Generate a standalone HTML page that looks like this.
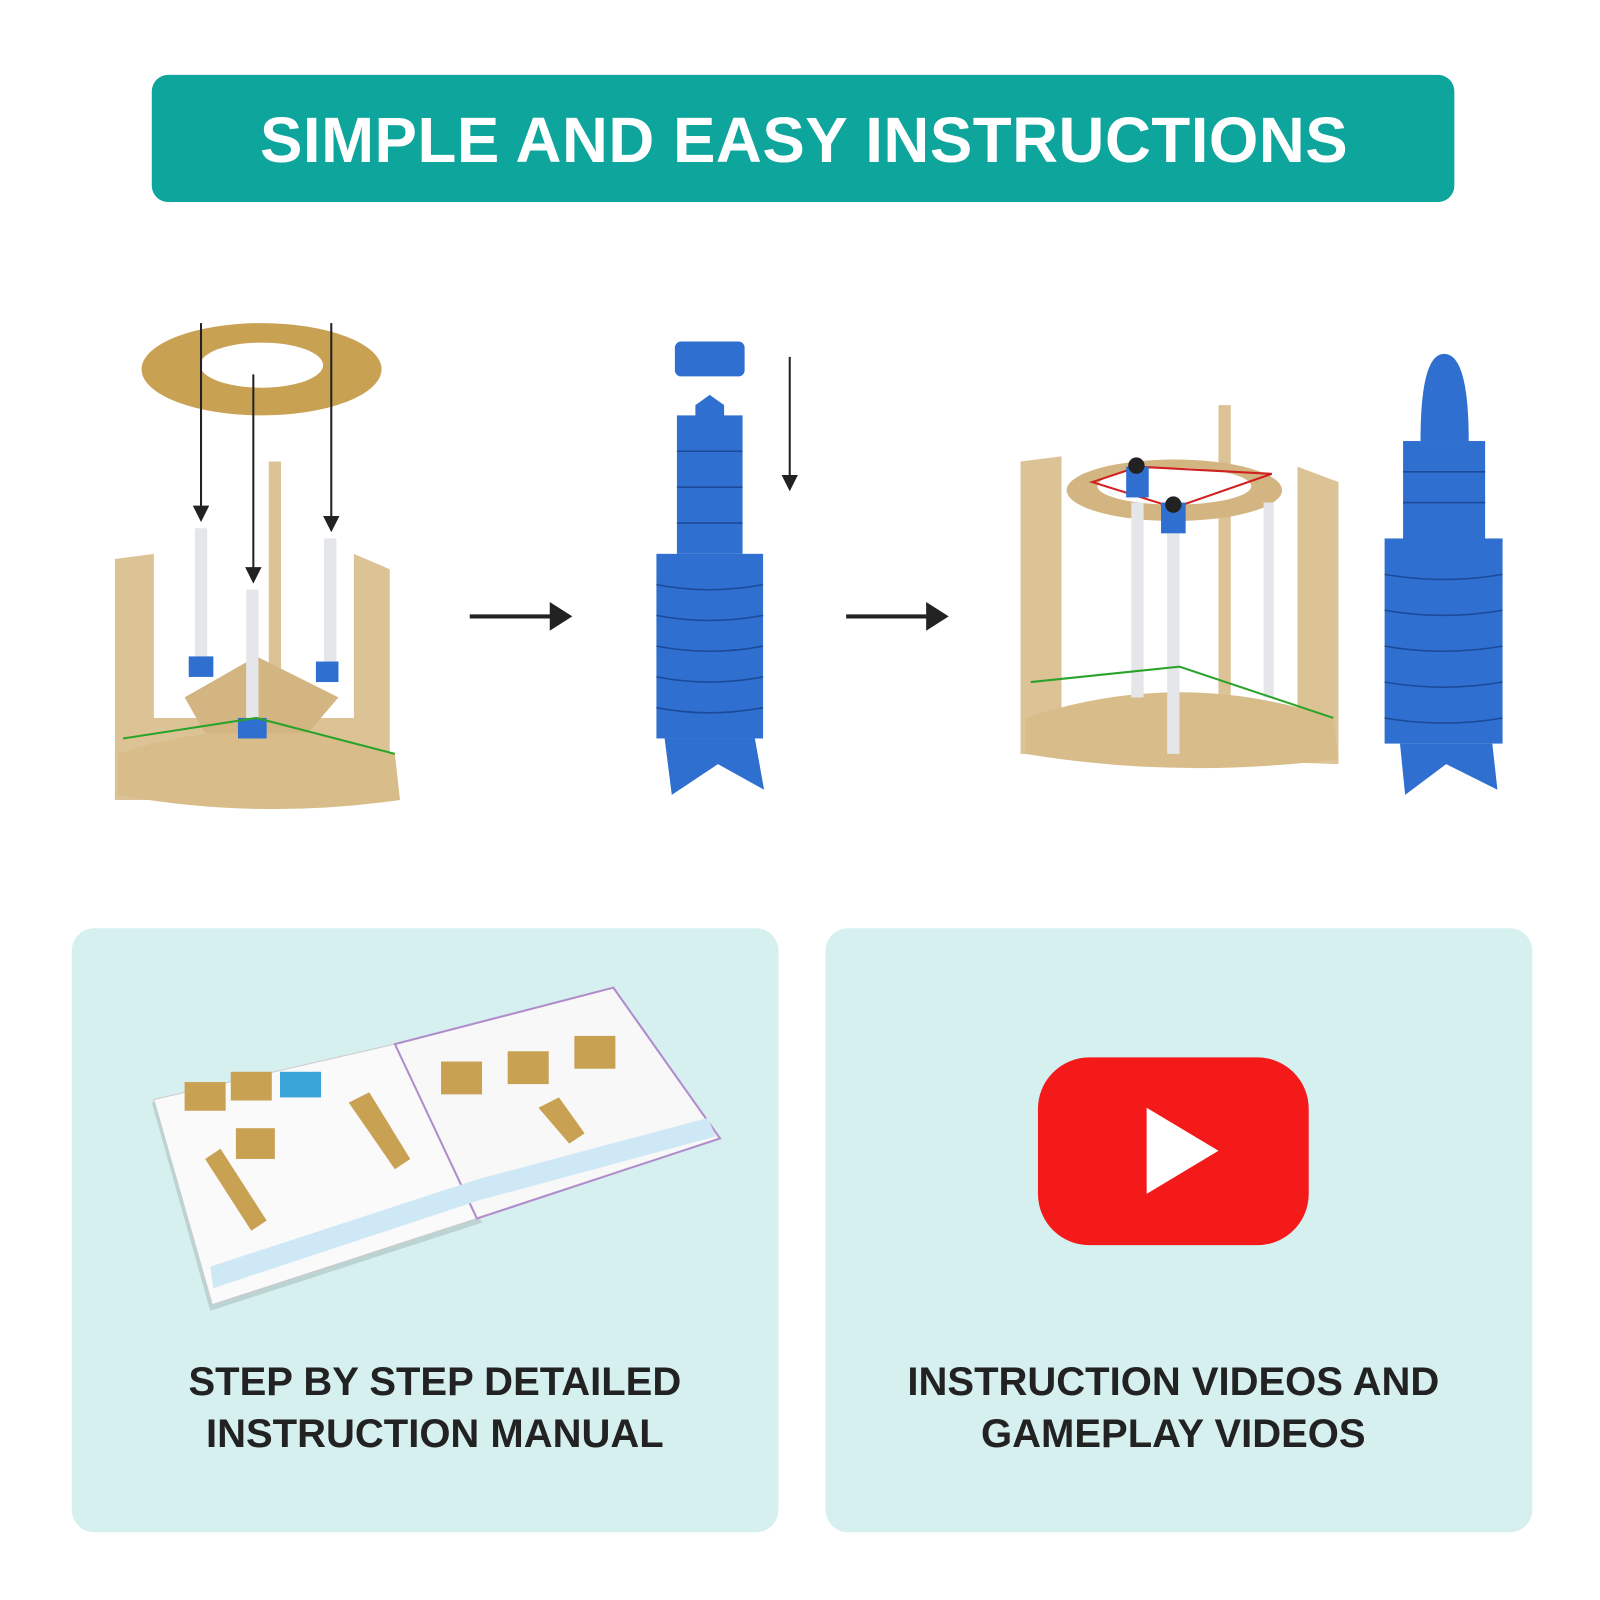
<!DOCTYPE html>
<html><head><meta charset="utf-8"><style>
html,body{margin:0;padding:0;background:#fff;}
svg{display:block}
text{font-family:"Liberation Sans",sans-serif;font-weight:bold}
</style></head><body>
<svg width="1600" height="1600" viewBox="0 0 1560 1560" xmlns="http://www.w3.org/2000/svg">
<defs>
<marker id="ah" markerWidth="8" markerHeight="8" refX="6" refY="4" orient="auto"><path d="M0,0 L8,4 L0,8z" fill="#222"/></marker>
</defs>
<rect width="1560" height="1560" fill="#fff"/>
<rect x="148" y="73" width="1270" height="124" rx="16" fill="#0ea59c"/>
<text x="784" y="158" font-size="62" fill="#fff" text-anchor="middle" letter-spacing="0.5">SIMPLE AND EASY INSTRUCTIONS</text>

<!-- left assembly -->
<g>
<ellipse cx="255" cy="360" rx="117" ry="45" fill="#c9a153"/>
<ellipse cx="255" cy="356" rx="60" ry="22" fill="#fff"/>
<path d="M112,545 L112,780 L380,780 L380,555 L345,540 L345,700 L150,700 L150,540z" fill="#dcc396"/>
<rect x="262" y="450" width="12" height="260" fill="#dcc396"/>
<path d="M115,735 Q250,690 385,735 L390,780 Q250,800 115,775z" fill="#d8bd8a"/>
<polygon points="180,680 250,640 330,680 300,715 200,715" fill="#d3b581"/>
<rect x="190" y="515" width="12" height="135" fill="#e4e6ea"/>
<rect x="240" y="575" width="12" height="135" fill="#e4e6ea"/>
<rect x="316" y="525" width="12" height="130" fill="#e4e6ea"/>
<rect x="184" y="640" width="24" height="20" fill="#2f6fd0"/>
<rect x="232" y="700" width="28" height="20" fill="#2f6fd0"/>
<rect x="308" y="645" width="22" height="20" fill="#2f6fd0"/>
<path d="M120,720 L250,700 L385,735" stroke="#2aa32a" stroke-width="2" fill="none"/>
<g stroke="#222" stroke-width="2" marker-end="url(#ah)">
<line x1="196" y1="315" x2="196" y2="505"/>
<line x1="247" y1="365" x2="247" y2="565"/>
<line x1="323" y1="315" x2="323" y2="515"/>
<line x1="770" y1="348" x2="770" y2="475"/>
</g>
</g>
<!-- arrows -->
<line x1="458" y1="601" x2="540" y2="601" stroke="#222" stroke-width="4"/>
<polygon points="536,587 558,601 536,615" fill="#222"/>
<line x1="825" y1="601" x2="907" y2="601" stroke="#222" stroke-width="4"/>
<polygon points="903,587 925,601 903,615" fill="#222"/>
<!-- middle rocket -->
<g fill="#2f6fd0">
<rect x="658" y="333" width="68" height="34" rx="6"/>
<polygon points="678,395 692,385 706,395 706,410 678,410"/>
<rect x="660" y="405" width="64" height="135"/>
<rect x="640" y="540" width="104" height="180"/>
<polygon points="648,720 736,720 745,770 700,745 655,775"/>
</g>
<g stroke="#1b4a99" stroke-width="1.5" fill="none">
<line x1="660" y1="440" x2="724" y2="440"/><line x1="660" y1="475" x2="724" y2="475"/><line x1="660" y1="510" x2="724" y2="510"/>
<path d="M640,570 Q692,580 744,570 M640,600 Q692,610 744,600 M640,630 Q692,640 744,630 M640,660 Q692,670 744,660 M640,690 Q692,700 744,690"/>
</g>
<!-- right assembly -->
<g>
<path d="M995,450 L995,735 L1305,745 L1305,470 L1265,455 L1265,690 L1035,690 L1035,445z" fill="#dcc396"/>
<rect x="1188" y="395" width="12" height="300" fill="#dcc396"/>
<path d="M1000,700 Q1150,650 1300,700 L1305,740 Q1150,760 1000,735z" fill="#d8bd8a"/>
<ellipse cx="1145" cy="478" rx="105" ry="30" fill="#d3b581"/>
<ellipse cx="1145" cy="474" rx="75" ry="18" fill="#fff"/>
<path d="M1065,470 L1110,455 L1240,462 L1145,495z" stroke="#d02020" stroke-width="2" fill="none"/>
<rect x="1103" y="490" width="12" height="190" fill="#e4e6ea"/>
<rect x="1138" y="520" width="12" height="215" fill="#e4e6ea"/>
<rect x="1232" y="490" width="10" height="190" fill="#e4e6ea"/>
<rect x="1098" y="455" width="22" height="30" fill="#2f6fd0"/>
<rect x="1132" y="490" width="24" height="30" fill="#2f6fd0"/>
<circle cx="1108" cy="454" r="8" fill="#222"/><circle cx="1144" cy="492" r="8" fill="#222"/>
<path d="M1005,665 L1150,650 L1300,700" stroke="#2aa32a" stroke-width="2" fill="none"/>
</g>
<g fill="#2f6fd0">
<path d="M1385,430 Q1385,345 1408,345 Q1432,345 1432,430z"/>
<rect x="1368" y="430" width="80" height="100"/>
<rect x="1350" y="525" width="115" height="200"/>
<polygon points="1365,725 1455,725 1460,770 1410,745 1370,775"/>
</g>
<g stroke="#1b4a99" stroke-width="1.5" fill="none">
<path d="M1368,460 H1448 M1368,490 H1448 M1350,560 Q1408,570 1465,560 M1350,595 Q1408,605 1465,595 M1350,630 Q1408,640 1465,630 M1350,665 Q1408,675 1465,665 M1350,700 Q1408,710 1465,700"/>
</g>

<!-- cards -->
<rect x="70" y="905" width="689" height="589" rx="22" fill="#d6efef"/>
<rect x="805" y="905" width="689" height="589" rx="22" fill="#d6efef"/>
<!-- book -->
<polygon points="148,1075 385,1020 470,1192 205,1278" fill="#9fb7b5" opacity="0.5"/>
<polygon points="150,1072 385,1018 465,1188 207,1272" fill="#fafafa" stroke="#ccc"/>
<polygon points="385,1018 598,963 702,1110 465,1188" fill="#f8f8f8" stroke="#b08ccc" stroke-width="2"/>
<g fill="#c9a153">
<rect x="180" y="1055" width="40" height="28"/><rect x="225" y="1045" width="40" height="28"/>
<polygon points="200,1130 215,1120 260,1190 245,1200"/>
<rect x="230" y="1100" width="38" height="30"/>
<polygon points="340,1075 360,1065 400,1130 385,1140"/>
<rect x="430" y="1035" width="40" height="32"/><rect x="495" y="1025" width="40" height="32"/><rect x="560" y="1010" width="40" height="32"/>
<polygon points="525,1080 545,1070 570,1105 555,1115"/>
</g>
<rect x="273" y="1045" width="40" height="25" fill="#3aa5d8"/>
<polygon points="205,1235 465,1150 468,1170 208,1256" fill="#cfe8f5"/>
<polygon points="465,1150 690,1090 698,1108 468,1170" fill="#cfe8f5"/>
<!-- youtube -->
<rect x="1012" y="1031" width="264" height="183" rx="50" fill="#f41a1a"/>
<polygon points="1118,1080 1118,1164 1188,1122" fill="#fff"/>
<g font-size="39" fill="#222" text-anchor="middle">
<text x="424" y="1360">STEP BY STEP DETAILED</text>
<text x="424" y="1411">INSTRUCTION MANUAL</text>
<text x="1144" y="1360">INSTRUCTION VIDEOS AND</text>
<text x="1144" y="1411">GAMEPLAY VIDEOS</text>
</g>
</svg>
</body></html>
